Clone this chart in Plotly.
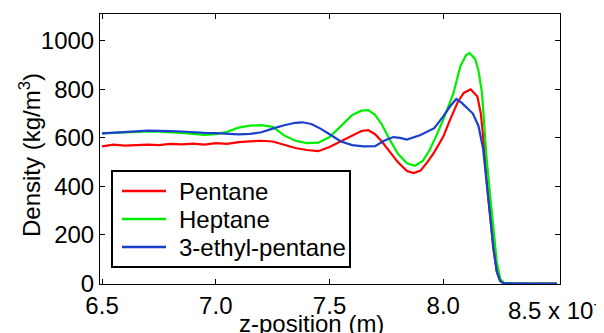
import plotly.graph_objects as go

pentane_z = [6.50, 6.55, 6.60, 6.65, 6.70, 6.75, 6.80, 6.85, 6.90, 6.95, 7.00, 7.05, 7.10, 7.15, 7.20,
             7.25, 7.30, 7.35, 7.40, 7.45, 7.50, 7.55, 7.60, 7.64, 7.67, 7.70, 7.73, 7.76, 7.80, 7.84,
             7.87, 7.90, 7.93, 7.96, 8.00, 8.03, 8.065, 8.09, 8.12, 8.15, 8.165, 8.18, 8.19, 8.205,
             8.22, 8.235, 8.25, 8.265, 8.30, 8.40, 8.50]
pentane_rho = [565, 572, 568, 570, 572, 570, 575, 573, 576, 572, 578, 575, 582, 585, 588,
               585, 572, 558, 550, 545, 562, 585, 610, 628, 632, 615, 585, 548, 500, 463,
               455, 465, 500, 540, 605, 675, 750, 785, 800, 770, 700, 560, 430, 290,
               145, 50, 10, 2, 0, 0, 0]

heptane_z = [6.50, 6.55, 6.60, 6.65, 6.70, 6.75, 6.80, 6.85, 6.90, 6.95, 7.00, 7.05, 7.10, 7.15, 7.20,
             7.25, 7.30, 7.35, 7.40, 7.45, 7.50, 7.55, 7.60, 7.64, 7.67, 7.70, 7.73, 7.76, 7.80, 7.84,
             7.875, 7.91, 7.94, 7.97, 8.00, 8.045, 8.075, 8.10, 8.115, 8.14, 8.155, 8.17, 8.18, 8.19,
             8.205, 8.22, 8.235, 8.25, 8.265, 8.30, 8.40, 8.50]
heptane_rho = [618, 620, 622, 624, 626, 625, 624, 620, 616, 612, 615, 625, 642, 650, 652,
               645, 610, 588, 578, 580, 603, 650, 694, 712, 714, 695, 655, 600, 535, 495,
               485, 505, 550, 610, 675, 785, 895, 940, 950, 925, 875, 785, 650, 520,
               370, 220, 90, 20, 3, 0, 0, 0]

ethylpentane_z = [6.50, 6.55, 6.60, 6.65, 6.70, 6.75, 6.80, 6.85, 6.90, 6.95, 7.00, 7.05, 7.10, 7.15,
                  7.20, 7.25, 7.30, 7.35, 7.38, 7.42, 7.46, 7.50, 7.55, 7.60, 7.65, 7.70, 7.74, 7.78,
                  7.81, 7.84, 7.87, 7.90, 7.96, 8.00, 8.03, 8.057, 8.08, 8.105, 8.13, 8.155, 8.175,
                  8.19, 8.205, 8.22, 8.235, 8.25, 8.265, 8.30, 8.40, 8.50]
ethylpentane_rho = [618, 622, 625, 627, 630, 630, 628, 626, 622, 620, 619, 617, 614, 616,
                    623, 638, 652, 662, 664, 657, 638, 615, 585, 570, 565, 566, 588, 603,
                    600, 593, 603, 612, 640, 688, 730, 760, 745, 724, 700, 648, 555,
                    420, 285, 150, 50, 10, 1, 0, 0, 0]

series_names = ["Pentane", "Heptane", "3-ethyl-pentane"]
series_colors = ["#ff0000", "#00ee00", "#1a3fcc"]

x_ticks = [6.5, 7.0, 7.5, 8.0]
x_tick_labels = ["6.5", "7.0", "7.5", "8.0"]
y_ticks = [0, 200, 400, 600, 800, 1000]

FONT = "Liberation Sans, Arial, sans-serif"

fig = go.Figure()
for name, zs, rs, col in zip(series_names,
                             [pentane_z, heptane_z, ethylpentane_z],
                             [pentane_rho, heptane_rho, ethylpentane_rho],
                             series_colors):
    fig.add_trace(go.Scatter(x=zs, y=rs, mode="lines", name=name, showlegend=False,
                             line=dict(color=col, width=2.2)))

axis_common = dict(showline=True, linecolor="black", linewidth=1, mirror="allticks",
                   ticks="inside", ticklen=5, tickcolor="black", tickwidth=1,
                   showgrid=False, zeroline=False,
                   tickfont=dict(family=FONT, size=24, color="black"))

# MATLAB-style legend box (compact row spacing), drawn in paper coordinates
legend_box = dict(x0=0.0261, x1=0.5435, y0=0.063, y1=0.4185)
legend_rows_y = [0.3444, 0.2407, 0.137]
shapes = [dict(type="rect", xref="paper", yref="paper", layer="above",
               fillcolor="white", line=dict(color="black", width=2), **legend_box)]
annotations = []
for name, col, yy in zip(series_names, series_colors, legend_rows_y):
    shapes.append(dict(type="line", xref="paper", yref="paper", layer="above",
                       x0=0.0478, x1=0.1435, y0=yy, y1=yy, line=dict(color=col, width=2.5)))
    annotations.append(dict(text=name, x=0.1674, y=yy, xref="paper", yref="paper",
                            xanchor="left", yanchor="middle", showarrow=False,
                            font=dict(family=FONT, size=24, color="black")))

annotations += [
    dict(text="Density (kg/m<sup>3</sup>)", textangle=-90, x=-0.152, y=0.478,
         xref="paper", yref="paper", xanchor="center", yanchor="middle", showarrow=False,
         font=dict(family=FONT, size=24, color="black")),
    dict(text="z-position (m)", x=0.46, y=-0.089, xref="paper", yref="paper",
         xanchor="center", yanchor="top", showarrow=False,
         font=dict(family=FONT, size=24, color="black")),
    dict(text="8.5 x 10<sup>-9</sup>", x=0.8826, y=-0.0926, xref="paper", yref="paper",
         xanchor="left", yanchor="middle", showarrow=False,
         font=dict(family=FONT, size=24, color="black")),
]

# the page body has an 8px margin, so the figure is 8px smaller than the window
fig.update_layout(
    width=596, height=325,
    margin=dict(l=92, r=44, t=6, b=49),
    paper_bgcolor="white", plot_bgcolor="white",
    font=dict(family=FONT, color="black"),
    xaxis=dict(range=[6.491, 8.513], tickvals=x_ticks, ticktext=x_tick_labels, **axis_common),
    yaxis=dict(range=[-2, 1110], tickvals=y_ticks, **axis_common),
    shapes=shapes,
    annotations=annotations,
)

fig.write_html("out.html")
